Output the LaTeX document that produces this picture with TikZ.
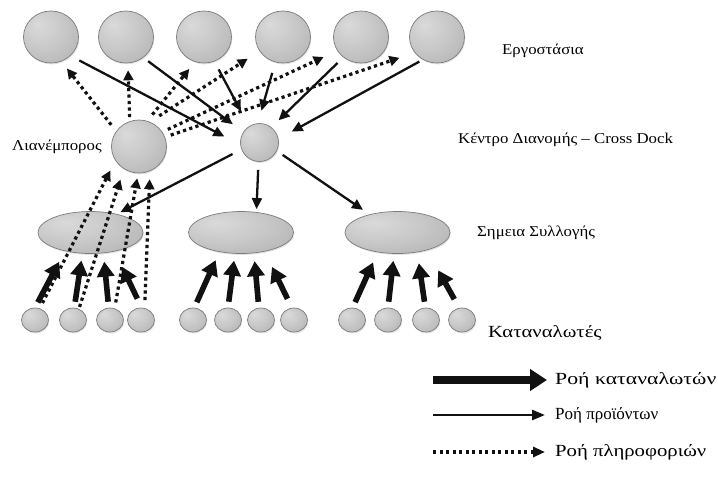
\documentclass[tikz,border=0pt]{standalone}
\usepackage{fontspec}
\setmainfont{Liberation Serif}
\newfontfamily\tagfont[FakeStretch=1.12]{Liberation Serif}
\usetikzlibrary{arrows.meta,shadows,shapes.geometric}

\definecolor{inkc}{HTML}{111111}
\definecolor{orbline}{HTML}{7C7C7C}
\definecolor{orbA}{HTML}{DADADA}
\definecolor{orbB}{HTML}{C8C8C8}
\definecolor{orbC}{HTML}{AEAEAE}
\definecolor{orbD}{HTML}{8E8E8E}
\definecolor{orbE}{HTML}{858585}

% soft grey ball, lit from the upper left
\pgfdeclareradialshading{orb}{\pgfpoint{-12bp}{12bp}}{%
  color(0bp)=(orbA); color(20bp)=(orbB); color(45bp)=(orbC);
  color(60bp)=(orbD); color(70bp)=(orbE)}

\begin{document}
\begin{tikzpicture}[x=1pt,y=-1pt,
  orbnode/.style={ellipse, shading=orb, draw=orbline, line width=0.7pt,
    inner sep=0pt,
    drop shadow={opacity=0.22,shadow xshift=0.8pt,shadow yshift=-1.4pt}},
  factory/.style={orbnode, minimum width=55pt, minimum height=52pt},
  retailer/.style={orbnode, minimum width=55pt, minimum height=53pt},
  hub/.style={orbnode, minimum width=38pt, minimum height=38pt},
  pickup/.style={orbnode, minimum width=105pt, minimum height=42pt},
  buyer/.style={orbnode, minimum width=27pt, minimum height=24pt},
  prod/.style={draw=inkc, line width=2.3pt, -{Triangle[length=11pt,width=10pt]}},
  info/.style={draw=inkc, line width=3.2pt, dash pattern=on 3.2pt off 3.3pt,
    -{Triangle[length=10pt,width=10pt]}},
  cons/.style={draw=inkc, line width=5.6pt, -{Triangle[length=15pt,width=17pt]}},
  legcons/.style={draw=inkc, line width=7.5pt, -{Triangle[length=17pt,width=21pt]}},
  legprod/.style={draw=inkc, line width=2.6pt, -{Triangle[length=13pt,width=10pt]}},
  leginfo/.style={draw=inkc, line width=3.2pt, dash pattern=on 3.2pt off 3.3pt,
    -{Triangle[length=12pt,width=10pt]}},
  tag/.style={font=\tagfont\fontsize{15}{17}\selectfont, inner sep=0pt, anchor=west},
  legtext/.style={font=\fontsize{17}{19}\selectfont, inner sep=0pt, anchor=west}
]
\useasboundingbox[fill=white] (0,0) rectangle (718,499);

% factories
\node[factory] (F1) at (51,37) {};
\node[factory] (F2) at (126,37) {};
\node[factory] (F3) at (204,37) {};
\node[factory] (F4) at (283,37) {};
\node[factory] (F5) at (361,37) {};
\node[factory] (F6) at (437,37) {};

% retailer and cross dock
\node[retailer] (D) at (139,146.5) {};
\node[hub] (CD) at (259.5,142.5) {};

% collection points
\node[pickup] (E1) at (90.5,232.5) {};
\node[pickup] (E2) at (241,232.5) {};
\node[pickup] (E3) at (397.5,232.5) {};

% consumers
\node[buyer] (C11) at (35,320) {};
\node[buyer] (C12) at (73,320) {};
\node[buyer] (C13) at (110,320) {};
\node[buyer] (C14) at (141,320) {};
\node[buyer] (C21) at (193,320) {};
\node[buyer] (C22) at (228,320) {};
\node[buyer] (C23) at (261,320) {};
\node[buyer] (C24) at (294,320) {};
\node[buyer] (C31) at (352,320) {};
\node[buyer] (C32) at (388,320) {};
\node[buyer] (C33) at (426,320) {};
\node[buyer] (C34) at (462,320) {};

% product flow: factories -> cross dock -> collection points
\draw[prod,shorten <=10pt,shorten >=18pt] (F1.316) -- (CD.187);
\draw[prod,shorten <=6pt,shorten >=13pt] (F2.310) -- (CD.147);
\draw[prod,shorten <=9pt,shorten >=17pt] (F3.293) -- (CD.123);
\draw[prod,shorten <=11pt,shorten >=13pt] (F4.253) -- (CD.95);
\draw[prod,shorten <=8pt,shorten >=10pt] (F5.229) -- (CD.52);
\draw[prod,shorten <=4pt,shorten >=15pt] (F6.238) -- (CD.11);
\draw[prod,shorten <=10pt,shorten >=4pt] (CD.201) -- (E1.35);
\draw[prod,shorten <=8pt,shorten >=3pt] (CD.267) -- (E2.53);
\draw[prod,shorten <=7pt,shorten >=8pt] (CD.334) -- (E3.147);

% information flow: retailer -> factories
\draw[info,shorten <=8pt,shorten >=9pt] (D.146) -- (F1.293);
\draw[info,shorten <=4pt,shorten >=7pt] (D.110) -- (F2.274);
\draw[info,shorten <=8pt,shorten >=9pt] (D.72) -- (F3.250);
\draw[info,shorten <=11pt,shorten >=14pt] (D.66) -- (F4.211);
\draw[info,shorten <=6pt,shorten >=15pt] (D.32) -- (F5.210);
\draw[info,shorten <=6pt,shorten >=16pt] (D.20) -- (F6.215);

% information flow: consumers -> retailer
\draw[info,shorten <=6pt,shorten >=11pt] (C11.68) -- (D.211);
\draw[info,shorten <=2pt,shorten >=11pt] (C12.62) -- (D.236);
\draw[info,shorten <=6pt,shorten >=5pt] (C13.68) -- (D.268);
\draw[info,shorten <=8pt,shorten >=8pt] (C14.73) -- (D.294);

% consumer flow: consumers -> collection points
\draw[cons,shorten <=6pt,shorten >=12pt] (C11.90) -- (E1.216);
\draw[cons,shorten <=6pt,shorten >=7pt] (C12.84) -- (E1.249);
\draw[cons,shorten <=6pt,shorten >=8.5pt] (C13.96) -- (E1.302);
\draw[cons,shorten <=10pt,shorten >=17pt] (C14.87) -- (E1.322);
\draw[cons,shorten <=6pt,shorten >=9pt] (C21.84) -- (E2.222);
\draw[cons,shorten <=6pt,shorten >=7pt] (C22.90) -- (E2.254);
\draw[cons,shorten <=6pt,shorten >=8pt] (C23.100) -- (E2.302);
\draw[cons,shorten <=10pt,shorten >=17pt] (C24.100) -- (E2.321);
\draw[cons,shorten <=6pt,shorten >=11pt] (C31.87) -- (E3.225);
\draw[cons,shorten <=6pt,shorten >=7pt] (C32.90) -- (E3.261);
\draw[cons,shorten <=6pt,shorten >=11pt] (C33.93) -- (E3.315);
\draw[cons,shorten <=10pt,shorten >=23pt] (C34.103) -- (E3.329);

% level labels
\node[tag] (tF) at (502,51) {Εργοστάσια};
\node[tag] (tCD) at (458,140) {Κέντρο Διανομής – Cross Dock};
\node[tag] (tE) at (477,233) {Σημεια Συλλογής};
\node[tag] (tD) at (12,147) {Λιανέμπορος};
\node[legtext] (tC) at (488,333) {\scalebox{1.22}[1]{Καταναλωτές}};

% legend
\coordinate (La) at (433,380);
\coordinate (Lb) at (433,415);
\coordinate (Lc) at (433,452);
\node[legtext] (La-t) at (555,380) {\scalebox{1.28}[1]{Ροή καταναλωτών}};
\node[legtext] (Lb-t) at (555,415) {Ροή προϊόντων};
\node[legtext] (Lc-t) at (555,452) {\scalebox{1.22}[1]{Ροή πληροφοριών}};
\draw[legcons,shorten >=8pt] (La) -- (La-t.west);
\draw[legprod,shorten >=10pt] (Lb) -- (Lb-t.west);
\draw[leginfo,shorten >=10pt] (Lc) -- (Lc-t.west);
\end{tikzpicture}
\end{document}
